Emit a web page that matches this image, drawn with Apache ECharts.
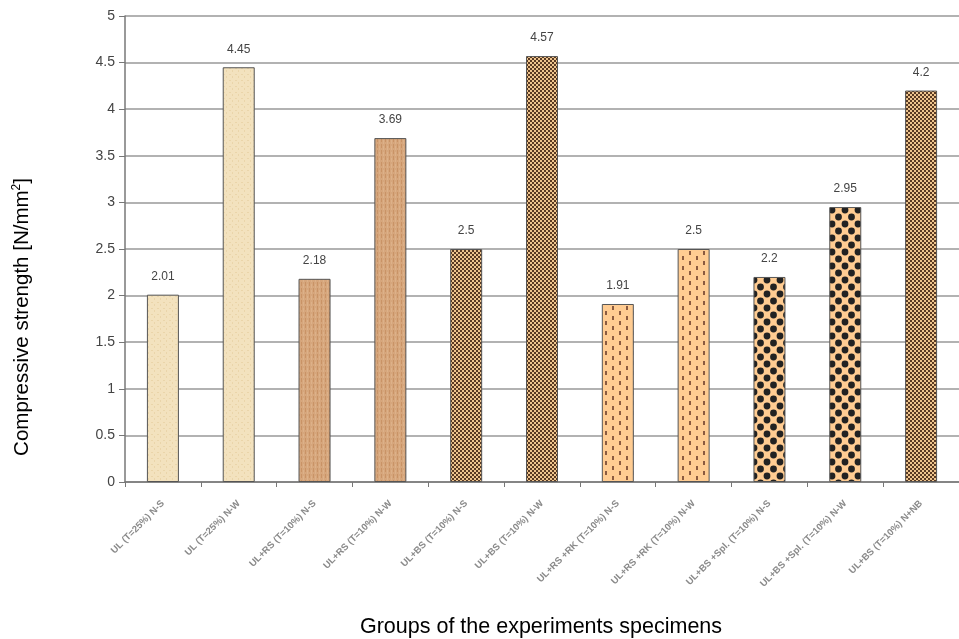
<!DOCTYPE html>
<html>
<head>
<meta charset="utf-8">
<script src="https://cdn.jsdelivr.net/npm/echarts@6/dist/echarts.min.js"></script>
<style>html,body{margin:0;padding:0;background:#fff;}#c{width:959px;height:639px;}</style>
</head>
<body>
<div id="c"></div>
<script>
const categories = [
  "UL (T=25%) N-S",
  "UL (T=25%) N-W",
  "UL+RS (T=10%) N-S",
  "UL+RS (T=10%) N-W",
  "UL+BS (T=10%) N-S",
  "UL+BS (T=10%) N-W",
  "UL+RS +RK (T=10%) N-S",
  "UL+RS +RK (T=10%) N-W",
  "UL+BS +Spl. (T=10%) N-S",
  "UL+BS +Spl. (T=10%) N-W",
  "UL+BS (T=10%) N+NB"
];
const strengthValues = [2.01, 4.45, 2.18, 3.69, 2.5, 4.57, 1.91, 2.5, 2.2, 2.95, 4.2];
const yTicks = [0, 0.5, 1, 1.5, 2, 2.5, 3, 3.5, 4, 4.5, 5];
const groupOf = ["UL", "UL", "RS", "RS", "BS", "BS", "RK", "RK", "SPL", "SPL", "BS"];

function mk(w, h, draw) {
  const c = document.createElement('canvas');
  c.width = w; c.height = h;
  const g = c.getContext('2d');
  draw(g, w, h);
  return { image: c, repeat: 'repeat' };
}
const patterns = {
  UL: mk(6, 6, (g, w, h) => {
    g.fillStyle = '#F3E2BE'; g.fillRect(0, 0, w, h);
    g.fillStyle = '#EAD5AA'; g.fillRect(1, 2, 2, 1); g.fillRect(4, 4, 1, 2);
  }),
  RS: mk(4, 6, (g, w, h) => {
    g.fillStyle = '#D6A67C'; g.fillRect(0, 0, w, h);
    g.fillStyle = '#C99366'; g.fillRect(1, 0, 1, 4);
    g.fillStyle = '#DDB189'; g.fillRect(3, 2, 1, 4);
  }),
  BS: mk(4, 4, (g, w, h) => {
    g.fillStyle = '#5A3A22'; g.fillRect(0, 0, w, h);
    g.fillStyle = '#EFC58E'; g.fillRect(0, 0, 2, 2); g.fillRect(2, 2, 2, 2);
  }),
  RK: mk(14, 10, (g, w, h) => {
    g.fillStyle = '#FFCC92'; g.fillRect(0, 0, w, h);
    g.fillStyle = '#8A5A40'; g.fillRect(3, 1, 2, 4); g.fillRect(10, 6, 2, 4);
  }),
  SPL: mk(13, 14, (g, w, h) => {
    g.fillStyle = '#FFCC92'; g.fillRect(0, 0, w, h);
    g.fillStyle = '#222';
    const dot = (cx, cy) => { g.beginPath(); g.arc(cx, cy, 3.4, 0, Math.PI * 2); g.fill(); };
    dot(0, 0); dot(13, 0); dot(0, 14); dot(13, 14); dot(6.5, 7);
  })
};

const chart = echarts.init(document.getElementById('c'), null, { renderer: 'canvas' });
chart.setOption({
  backgroundColor: '#fff',
  animation: false,
  grid: { left: 125, top: 16, width: 843, height: 466, containLabel: false },
  xAxis: {
    type: 'category',
    data: categories,
    axisLine: { lineStyle: { color: '#777', width: 1.5 } },
    axisTick: { show: true, length: 5, lineStyle: { color: '#777' } },
    axisLabel: { rotate: 45, fontSize: 9.5, fontWeight: 'bold', color: '#8a8a8a', fontFamily: 'Liberation Sans, Arial', margin: 20, interval: 0 }
  },
  yAxis: {
    type: 'value',
    min: 0, max: 5, interval: 0.5,
    axisLine: { show: true, lineStyle: { color: '#777', width: 1.5 } },
    axisTick: { show: true, length: 6, lineStyle: { color: '#777' } },
    axisLabel: { fontSize: 14, color: '#444', fontFamily: 'Liberation Sans, Arial', margin: 10,
      formatter: v => yTicks.includes(v) ? String(v) : '' },
    splitLine: { lineStyle: { color: '#999', width: 1.5 } }
  },
  graphic: [
    { type: 'text', x: 22, y: 317, rotation: Math.PI / 2,
      style: { text: 'Compressive strength [N/mm{sup|2}]', font: '20.5px "Liberation Sans", Arial', fill: '#000',
        textAlign: 'center', textVerticalAlign: 'middle',
        rich: { sup: { fontSize: 12, verticalAlign: 'top', padding: [0, 0, 10, 0], fill: '#000' } } } },
    { type: 'text', x: 541, y: 627,
      style: { text: 'Groups of the experiments specimens', font: '21.5px "Liberation Sans", Arial', fill: '#000',
        textAlign: 'center', textVerticalAlign: 'middle' } }
  ],
  series: [{
    type: 'bar',
    barWidth: 32,
    data: strengthValues.map((v, i) => ({
      value: v,
      itemStyle: { color: patterns[groupOf[i]], borderColor: '#555', borderWidth: 1 }
    })),
    label: { show: true, position: 'top', distance: 12, fontSize: 12, color: '#444', fontFamily: 'Liberation Sans, Arial' }
  }]
});
</script>
</body>
</html>
